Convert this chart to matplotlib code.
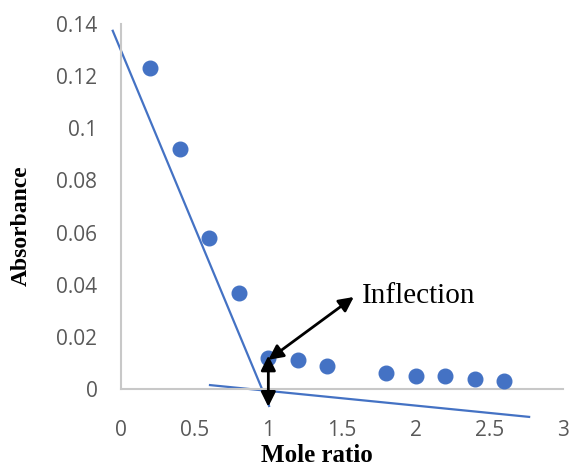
import matplotlib.pyplot as plt

# data
mole_ratio = [0.2, 0.4, 0.6, 0.8, 1.0, 1.2, 1.4, 1.8, 2.0, 2.2, 2.4, 2.6]
absorbance = [0.123, 0.092, 0.058, 0.037, 0.012, 0.011, 0.009, 0.006, 0.005, 0.005, 0.004, 0.003]

# hand-drawn fit lines (end points)
fit1_x = [-0.056, 1.005]
fit1_y = [0.1374, -0.0065]
fit2_x = [0.604, 2.77]
fit2_y = [0.0015, -0.0107]

xticks = [0, 0.5, 1, 1.5, 2, 2.5, 3]
xtick_labels = ['0', '0.5', '1', '1.5', '2', '2.5', '3']
yticks = [0, 0.02, 0.04, 0.06, 0.08, 0.1, 0.12, 0.14]
ytick_labels = ['0', '0.02', '0.04', '0.06', '0.08', '0.1', '0.12', '0.14']

blue = '#4472C4'
grey = '#595959'

fig = plt.figure(figsize=(5.71, 4.68), dpi=100)
ax = fig.add_axes([0.2119, 0.1688, 0.7741, 0.7799])

ax.plot(mole_ratio, absorbance, 'o', color=blue, ms=10.5, zorder=3)
ax.plot(fit1_x, fit1_y, color=blue, lw=1.6, clip_on=False)
ax.plot(fit2_x, fit2_y, color=blue, lw=1.6, clip_on=False)

# arrows
arrow = dict(arrowstyle='<|-|>', color='black', lw=2, mutation_scale=22, shrinkA=0, shrinkB=0)
ax.annotate('', xy=(1.0, -0.0068), xytext=(1.0, 0.0128), arrowprops=arrow, annotation_clip=False)
ax.annotate('', xy=(1.0, 0.0112), xytext=(1.58, 0.0353), arrowprops=arrow, annotation_clip=False)
ax.text(1.636, 0.033, 'Inflection', family='Liberation Serif', fontsize=21, va='baseline', ha='left')

ax.set_xlim(0, 3)
ax.set_ylim(0, 0.14)
ax.set_xticks(xticks)
ax.set_xticklabels(xtick_labels)
ax.set_yticks(yticks)
ax.set_yticklabels(ytick_labels)
ax.tick_params(length=0, labelsize=15, labelcolor=grey, pad=0)
ax.tick_params(axis='x', pad=22)
ax.tick_params(axis='y', pad=17)
for lab in ax.get_xticklabels() + ax.get_yticklabels():
    lab.set_family('Open Sans')

for s in ['top', 'right']:
    ax.spines[s].set_visible(False)
for s in ['left', 'bottom']:
    ax.spines[s].set_color('#C8C8C8')
    ax.spines[s].set_linewidth(1.5)

# axis titles placed in figure coords
fig.text(316.5 / 571, 1 - 462 / 468, 'Mole ratio', family='Liberation Serif', fontweight='bold',
         fontsize=18, ha='center', va='baseline')
fig.text(27 / 571, 1 - 226 / 468, 'Absorbance', family='Liberation Serif', fontweight='bold',
         fontsize=17, ha='center', va='baseline', rotation=90, rotation_mode='anchor')

plt.savefig('out.png', dpi=100)
